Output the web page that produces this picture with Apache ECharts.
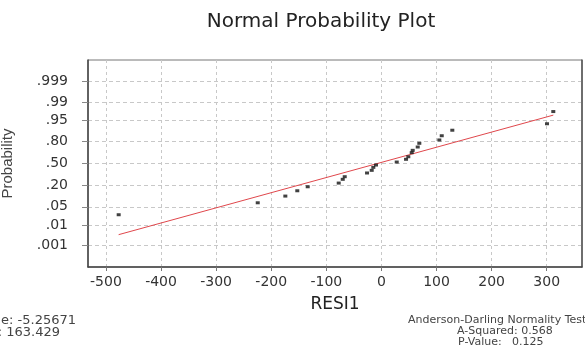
<!DOCTYPE html>
<html>
<head>
<meta charset="utf-8">
<script src="https://cdn.jsdelivr.net/npm/echarts@6/dist/echarts.min.js"></script>
<style>
  html, body { margin: 0; padding: 0; background: #fff; }
  #chart { width: 585px; height: 345px; }
</style>
</head>
<body>
<div id="chart"></div>
<script>
// residuals (x) and their plotted cumulative probabilities (y)
var residuals = [-476.9, -224.5, -174.4, -152.7, -133.8, -77.5, -70.2, -66.6, -26.1, -17.6, -14.7, -9.8,
  27.8, 44.7, 48.8, 55.0, 56.8, 65.9, 68.8, 105.1, 109.5, 128.7, 300.6, 312.0];
var probabilities = [0.026, 0.068, 0.108, 0.150, 0.188, 0.228, 0.273, 0.307, 0.358, 0.396, 0.440, 0.475,
  0.520, 0.561, 0.599, 0.657, 0.689, 0.732, 0.776, 0.812, 0.852, 0.895, 0.933, 0.975];

// fitted line end points
var fitX = [-477, 312];
var fitP = [0.0035, 0.966];

// axis ticks
var xTicks = [-500, -400, -300, -200, -100, 0, 100, 200, 300];
var probTicks = [0.001, 0.01, 0.05, 0.2, 0.5, 0.8, 0.95, 0.99, 0.999];
var probLabels = ['.001', '.01', '.05', '.20', '.50', '.80', '.95', '.99', '.999'];

var statsLeft = ['Average: -5.25671', 'StDev: 163.429'];
var statsRight = ['Anderson-Darling Normality Test', 'A-Squared: 0.568', 'P-Value:   0.125'];

// normal probability scale (inverse normal cdf, Acklam)
function probit(p) {
  var a = [-3.969683028665376e+01, 2.209460984245205e+02, -2.759285104469687e+02, 1.383577518672690e+02, -3.066479806614716e+01, 2.506628277459239e+00];
  var b = [-5.447609879822406e+01, 1.615858368580409e+02, -1.556989798598866e+02, 6.680131188771972e+01, -1.328068155288572e+01];
  var c = [-7.784894002430293e-03, -3.223964580411365e-01, -2.400758277161838e+00, -2.549732539343734e+00, 4.374664141464968e+00, 2.938163982698783e+00];
  var d = [7.784695709041462e-03, 3.224671290700398e-01, 2.445134137142996e+00, 3.754408661907416e+00];
  var plow = 0.02425, q, r;
  if (p < plow) {
    q = Math.sqrt(-2 * Math.log(p));
    return (((((c[0] * q + c[1]) * q + c[2]) * q + c[3]) * q + c[4]) * q + c[5]) /
      ((((d[0] * q + d[1]) * q + d[2]) * q + d[3]) * q + 1);
  }
  if (p > 1 - plow) {
    q = Math.sqrt(-2 * Math.log(1 - p));
    return -(((((c[0] * q + c[1]) * q + c[2]) * q + c[3]) * q + c[4]) * q + c[5]) /
      ((((d[0] * q + d[1]) * q + d[2]) * q + d[3]) * q + 1);
  }
  q = p - 0.5;
  r = q * q;
  return (((((a[0] * r + a[1]) * r + a[2]) * r + a[3]) * r + a[4]) * r + a[5]) * q /
    (((((b[0] * r + b[1]) * r + b[2]) * r + b[3]) * r + b[4]) * r + 1);
}

var probTickZ = probTicks.map(probit);
var points = residuals.map(function (x, i) { return [x, probit(probabilities[i])]; });
var fitData = fitX.map(function (x, i) { return [x, probit(fitP[i])]; });

var font = 'DejaVu Sans';
var smallText = { fontFamily: font, fontSize: 11, fill: '#444' };
var leftText = { fontFamily: font, fontSize: 13, fill: '#444' };

var graphics = [];
graphics.push({ type: 'text', right: 585 - 76, top: 314, style: Object.assign({ text: statsLeft[0], align: 'right' }, leftText) });
graphics.push({ type: 'text', right: 585 - 60, top: 326, style: Object.assign({ text: statsLeft[1], align: 'right' }, leftText) });
graphics.push({ type: 'text', left: 408, top: 315, style: Object.assign({ text: statsRight[0] }, smallText) });
graphics.push({ type: 'text', left: 457, top: 326, style: Object.assign({ text: statsRight[1] }, smallText) });
graphics.push({ type: 'text', left: 458, top: 337, style: Object.assign({ text: statsRight[2] }, smallText) });

var myChart = echarts.init(document.getElementById('chart'));
myChart.setOption({
  animation: false,
  backgroundColor: '#fff',
  title: {
    text: 'Normal Probability Plot',
    left: 316,
    top: 7,
    textAlign: 'center',
    textStyle: { fontFamily: font, fontSize: 20, fontWeight: 'normal', color: '#222' }
  },
  grid: {
    left: 88, top: 60, right: 3, bottom: 78,
    show: true, borderColor: '#777', borderWidth: 1,
    outerBoundsMode: 'none'
  },
  xAxis: {
    type: 'value',
    min: -532.6,
    max: 364.1,
    name: 'RESI1',
    nameLocation: 'middle',
    nameGap: 29,
    nameTextStyle: { fontFamily: font, fontSize: 17, color: '#222' },
    axisLine: { show: true, onZero: false, lineStyle: { color: '#444', width: 1.5 } },
    axisTick: { show: true, length: 4, customValues: xTicks, lineStyle: { color: '#777' } },
    axisLabel: { customValues: xTicks, margin: 8, fontFamily: font, fontSize: 14, color: '#333' },
    splitLine: { show: true, lineStyle: { color: '#c8c8c8', type: [3, 3], width: 1 } }
  },
  yAxis: [{
    type: 'value',
    min: -3.92,
    max: 3.91,
    name: 'Probability',
    nameLocation: 'middle',
    nameGap: 73,
    nameTextStyle: { fontFamily: 'Liberation Sans', fontSize: 15, color: '#444' },
    axisLine: { show: true, onZero: false, lineStyle: { color: '#444', width: 1.5 } },
    axisTick: { show: true, length: 6, customValues: probTickZ, lineStyle: { color: '#888' } },
    axisLabel: {
      customValues: probTickZ,
      margin: 20,
      fontFamily: font,
      fontSize: 14,
      color: '#333',
      formatter: function (v) {
        var best = 0;
        for (var i = 1; i < probTickZ.length; i++) {
          if (Math.abs(probTickZ[i] - v) < Math.abs(probTickZ[best] - v)) best = i;
        }
        return probLabels[best];
      }
    },
    splitLine: { show: true, lineStyle: { color: '#c8c8c8', type: [4, 3], width: 1 } }
  }, {
    type: 'value',
    position: 'right',
    min: -3.92,
    max: 3.91,
    axisLine: { show: true, onZero: false, lineStyle: { color: '#555', width: 1.5 } },
    axisTick: { show: false },
    axisLabel: { show: false },
    splitLine: { show: false }
  }],
  series: [
    {
      name: 'fit',
      type: 'line',
      data: fitData,
      symbol: 'none',
      silent: true,
      lineStyle: { color: '#e0474c', width: 1 },
      z: 2
    },
    {
      name: 'RESI1',
      type: 'scatter',
      data: points,
      symbol: 'rect',
      symbolSize: [4, 3],
      itemStyle: { color: '#111' },
      z: 3
    }
  ],
  graphic: graphics
});
</script>
</body>
</html>
